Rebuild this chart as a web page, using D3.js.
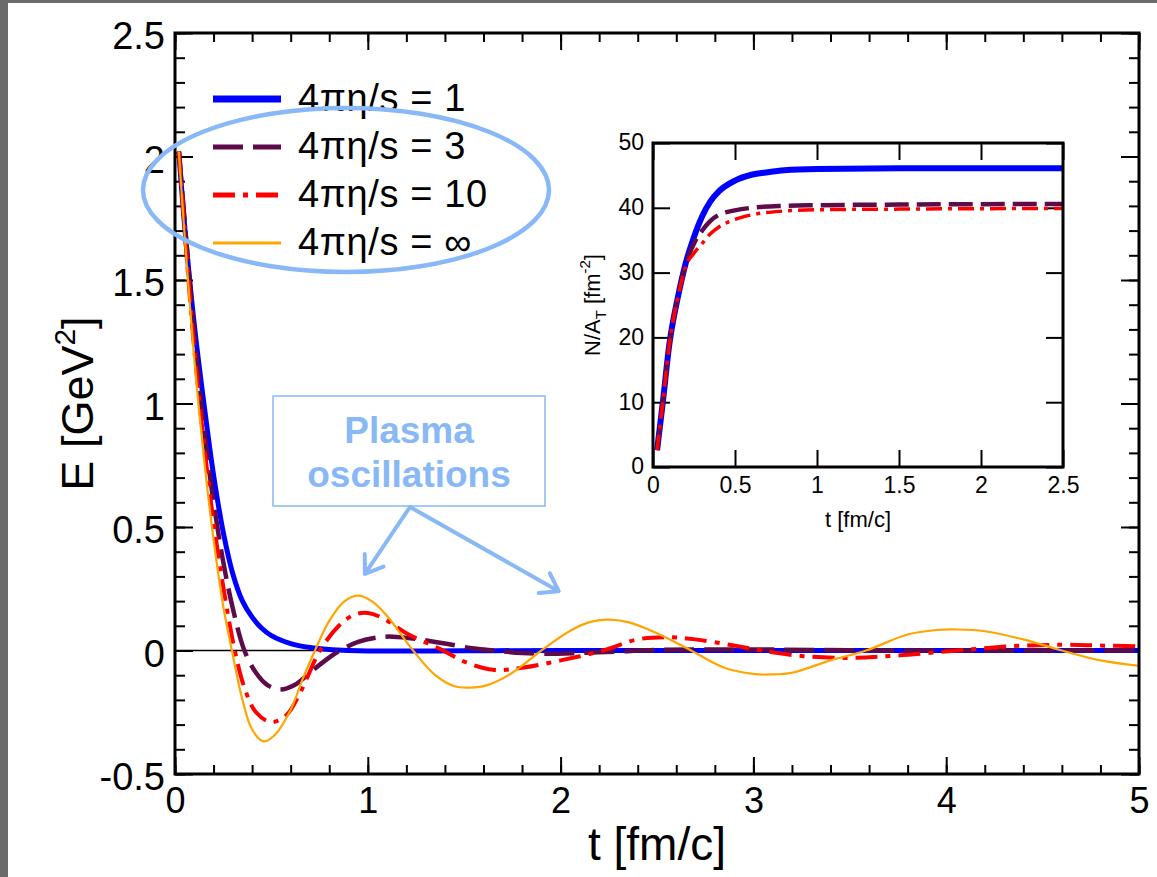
<!DOCTYPE html>
<html lang="en">
<head>
<meta charset="utf-8">
<script src="https://d3js.org/d3.v7.min.js"></script>
<style>
  body { margin: 0; background: #fff; }
  text { font-family: "Liberation Sans", Arial, sans-serif; }
</style>
</head>
<body>
<script>
// ---- data ----
// main plot: E [GeV^2] vs t [fm/c]
const tEta1 = [0.02,0.05,0.1,0.15,0.2,0.25,0.3,0.35,0.4,0.45,0.5,0.6,0.7,0.8,0.9,1.0,1.5,2.0,3.0,4.0,5.0];
const eEta1 = [2.02,1.72,1.32,1.0,0.71,0.48,0.31,0.2,0.135,0.09,0.06,0.028,0.012,0.004,0.0,-0.002,-0.001,0,0,0,0];

const tEta3 = [0.02,0.05,0.1,0.15,0.2,0.25,0.3,0.36,0.42,0.48,0.545,0.62,0.7,0.78,0.856,0.95,1.05,1.13,1.25,1.4,1.55,1.65,1.8,1.91,2.1,2.3,2.5,3.0,3.5,4.0,5.0];
const eEta3 = [2.02,1.74,1.28,0.9,0.6,0.36,0.17,0,-0.09,-0.14,-0.158,-0.14,-0.09,-0.04,0,0.035,0.053,0.056,0.047,0.028,0.008,0,-0.01,-0.013,-0.01,-0.004,0.002,0.004,0.001,0,0];

const tEta10 = [0.02,0.05,0.1,0.15,0.2,0.25,0.31,0.36,0.42,0.5,0.58,0.65,0.752,0.85,0.93,1.0,1.08,1.2,1.39,1.5,1.65,1.8,2.0,2.22,2.4,2.55,2.7,2.9,3.04,3.25,3.5,3.75,4.06,4.35,4.6,4.8,5.0];
const eEta10 = [2.02,1.7,1.22,0.84,0.52,0.26,0,-0.15,-0.25,-0.29,-0.26,-0.17,0,0.1,0.145,0.152,0.13,0.07,0,-0.045,-0.078,-0.07,-0.04,0,0.045,0.054,0.045,0.02,0,-0.022,-0.03,-0.02,0,0.018,0.023,0.02,0.017];

const tEtaInf = [0.02,0.05,0.1,0.15,0.2,0.25,0.295,0.35,0.4,0.46,0.52,0.6,0.66,0.726,0.8,0.88,0.95,1.02,1.1,1.235,1.35,1.45,1.53,1.62,1.75,1.9,2.05,2.15,2.24,2.35,2.5,2.676,2.85,3.0,3.09,3.2,3.4,3.585,3.8,3.95,4.06,4.2,4.4,4.6,4.8,5.0];
const eEtaInf = [2.02,1.68,1.18,0.78,0.45,0.18,0,-0.2,-0.32,-0.368,-0.34,-0.24,-0.12,0,0.12,0.2,0.222,0.2,0.14,0,-0.1,-0.145,-0.15,-0.14,-0.09,0,0.08,0.115,0.125,0.115,0.07,0,-0.07,-0.095,-0.097,-0.09,-0.04,0,0.065,0.083,0.085,0.078,0.045,0,-0.04,-0.062];

// inset: N/A_T [fm^-2] vs t [fm/c]
const tInset1 = [0.025,0.06,0.1,0.15,0.2,0.25,0.3,0.35,0.4,0.5,0.6,0.7,0.8,1.0,1.5,2.5];
const nInset1 = [2.6,10,19,26,31.5,35.5,38.7,41,42.5,44.2,45.1,45.5,45.8,46,46.1,46.1];
const tInset = [0.025,0.06,0.1,0.15,0.2,0.25,0.3,0.35,0.4,0.5,0.6,0.8,1.0,1.5,2.5];
const nInset3 = [2.6,10,19,26,31.3,34.5,36.5,38,38.9,39.6,40,40.3,40.4,40.5,40.6];
const nInset10 = [2.6,10,19,26,31,33,34.5,36,37,38.2,38.9,39.5,39.7,39.8,39.9];

const legendLabels = ["4\u03c0\u03b7/s = 1", "4\u03c0\u03b7/s = 3", "4\u03c0\u03b7/s = 10", "4\u03c0\u03b7/s = \u221e"];
const xTicks = [0,1,2,3,4,5];
const yTicks = [-0.5,0,0.5,1,1.5,2,2.5];
const xTicksInset = [0,0.5,1,1.5,2,2.5];
const yTicksInset = [0,10,20,30,40,50];

// ---- styles per series ----
const zip = (ts, vs) => ts.map((t, i) => ({t: t, v: vs[i]}));
const series = [
  {data: zip(tEta1, eEta1), color: "#0000ff", w: 5, dash: null, lw: 7},
  {data: zip(tEta3, eEta3), color: "#5e0b4a", w: 4.5, dash: "30,10", lw: 5},
  {data: zip(tEta10, eEta10), color: "#ff0000", w: 4, dash: "22,8,5,8", lw: 5},
  {data: zip(tEtaInf, eEtaInf), color: "#ffa500", w: 2.2, dash: null, lw: 3}
];
const insetSeries = [
  {data: zip(tInset1, nInset1), color: "#0000ff", w: 6, dash: null},
  {data: zip(tInset, nInset3), color: "#5e0b4a", w: 4.5, dash: "24,8"},
  {data: zip(tInset, nInset10), color: "#ff0000", w: 3.5, dash: "16,6,4,6"}
];

const W = 1157, H = 877;
const svg = d3.select("body").append("svg").attr("width", W).attr("height", H);
svg.append("rect").attr("width", W).attr("height", H).attr("fill", "#fff");
// grey slide border (top and left)
svg.append("rect").attr("width", W).attr("height", 3).attr("fill", "#6b6b6b");
svg.append("rect").attr("width", 8).attr("height", H).attr("fill", "#6b6b6b");

// ---- main plot ----
const pL = 175, pR = 1139, pT = 33, pB = 774;
const x = d3.scaleLinear().domain([0, 5]).range([pL, pR]);
const y = d3.scaleLinear().domain([-0.5, 2.5]).range([pB, pT]);

svg.append("clipPath").attr("id", "clipMain")
  .append("rect").attr("x", pL).attr("y", pT).attr("width", pR-pL).attr("height", pB-pT);

function addTicks(g, axis) {
  g.call(axis);
  g.select(".domain").remove();
  g.selectAll(".tick line").attr("stroke", "#000").attr("stroke-width", 2);
  return g;
}

// minor ticks
addTicks(svg.append("g").attr("transform", `translate(${pL},0)`),
  d3.axisLeft(y).tickValues(d3.range(-0.5, 2.51, 0.1)).tickSize(-10).tickFormat(""));
addTicks(svg.append("g").attr("transform", `translate(${pR},0)`),
  d3.axisRight(y).tickValues(d3.range(-0.5, 2.51, 0.1)).tickSize(-10).tickFormat(""));
addTicks(svg.append("g").attr("transform", `translate(0,${pB})`),
  d3.axisBottom(x).tickValues(d3.range(0, 5.01, 0.2)).tickSize(-9).tickFormat(""));
addTicks(svg.append("g").attr("transform", `translate(0,${pT})`),
  d3.axisTop(x).tickValues(d3.range(0, 5.01, 0.2)).tickSize(-9).tickFormat(""));

// major ticks + labels
const yAx = addTicks(svg.append("g").attr("transform", `translate(${pL},0)`),
  d3.axisLeft(y).tickValues(yTicks).tickSize(-18).tickPadding(10).tickFormat(d => d));
yAx.selectAll("text").attr("font-size", 38).attr("fill", "#000")
  .attr("font-family", "Liberation Sans, Arial, sans-serif").attr("dy", "0.42em");
addTicks(svg.append("g").attr("transform", `translate(${pR},0)`),
  d3.axisRight(y).tickValues(yTicks).tickSize(-18).tickFormat(""));
const xAx = addTicks(svg.append("g").attr("transform", `translate(0,${pB})`),
  d3.axisBottom(x).tickValues(xTicks).tickSize(-17).tickPadding(13).tickFormat(d => d));
xAx.selectAll("text").attr("font-size", 36).attr("fill", "#000")
  .attr("font-family", "Liberation Sans, Arial, sans-serif");
addTicks(svg.append("g").attr("transform", `translate(0,${pT})`),
  d3.axisTop(x).tickValues(xTicks).tickSize(-17).tickFormat(""));

// zero line
svg.append("line").attr("x1", pL).attr("x2", pR).attr("y1", y(0)).attr("y2", y(0))
  .attr("stroke", "#000").attr("stroke-width", 1.5);

const line = d3.line().x(d => x(d.t)).y(d => y(d.v)).curve(d3.curveCatmullRom.alpha(0.5));
const gLines = svg.append("g").attr("clip-path", "url(#clipMain)");
series.forEach(s => {
  gLines.append("path").datum(s.data)
    .attr("fill", "none").attr("stroke", s.color).attr("stroke-width", s.w)
    .attr("stroke-dasharray", s.dash).attr("stroke-linejoin", "round")
    .attr("d", line);
});

// frame
svg.append("rect").attr("x", pL).attr("y", pT).attr("width", pR-pL).attr("height", pB-pT)
  .attr("fill", "none").attr("stroke", "#000").attr("stroke-width", 3);

// axis titles
svg.append("text").attr("x", x(2.5)).attr("y", 860).attr("text-anchor", "middle")
  .attr("font-size", 46).text("t [fm/c]");
const yt = svg.append("text").attr("transform", `translate(93,${y(1)}) rotate(-90)`)
  .attr("text-anchor", "middle").attr("font-size", 45);
yt.append("tspan").text("E [GeV");
yt.append("tspan").attr("font-size", 30).attr("dy", -18).text("2");
yt.append("tspan").attr("dy", 18).text("]");

// legend
const leg = svg.append("g");
series.forEach((s, i) => {
  const ly = 99 + i * 48;
  leg.append("line").attr("x1", 213).attr("x2", 281).attr("y1", ly).attr("y2", ly)
    .attr("stroke", s.color).attr("stroke-width", s.lw).attr("stroke-dasharray", s.dash);
  leg.append("text").attr("x", 298).attr("y", ly + 12).attr("font-size", 38)
    .attr("letter-spacing", 0.6).text(legendLabels[i]);
});

// ---- inset ----
const il = 653, ir = 1063, itop = 143, ibot = 467;
const xi = d3.scaleLinear().domain([0, 2.5]).range([il, ir]);
const yi = d3.scaleLinear().domain([0, 50]).range([ibot, itop]);
svg.append("rect").attr("x", il).attr("y", itop).attr("width", ir-il).attr("height", ibot-itop).attr("fill", "#fff");

const yiAx = addTicks(svg.append("g").attr("transform", `translate(${il},0)`),
  d3.axisLeft(yi).tickValues(yTicksInset).tickSize(-17).tickPadding(9).tickFormat(d => d));
yiAx.selectAll("text").attr("font-size", 23).attr("fill", "#000")
  .attr("font-family", "Liberation Sans, Arial, sans-serif").attr("dy", "0.3em");
addTicks(svg.append("g").attr("transform", `translate(${ir},0)`),
  d3.axisRight(yi).tickValues(yTicksInset).tickSize(-17).tickFormat(""));
const xiAx = addTicks(svg.append("g").attr("transform", `translate(0,${ibot})`),
  d3.axisBottom(xi).tickValues(xTicksInset).tickSize(-17).tickPadding(10).tickFormat(d => d));
xiAx.selectAll("text").attr("font-size", 23).attr("fill", "#000")
  .attr("font-family", "Liberation Sans, Arial, sans-serif");
addTicks(svg.append("g").attr("transform", `translate(0,${itop})`),
  d3.axisTop(xi).tickValues(xTicksInset).tickSize(-17).tickFormat(""));

const iline = d3.line().x(d => xi(d.t)).y(d => yi(d.v)).curve(d3.curveMonotoneX);
insetSeries.forEach(s => {
  svg.append("path").datum(s.data)
    .attr("fill", "none").attr("stroke", s.color).attr("stroke-width", s.w)
    .attr("stroke-dasharray", s.dash).attr("d", iline);
});
svg.append("rect").attr("x", il).attr("y", itop).attr("width", ir-il).attr("height", ibot-itop)
  .attr("fill", "none").attr("stroke", "#000").attr("stroke-width", 3);

svg.append("text").attr("x", xi(1.25)).attr("y", 527).attr("text-anchor", "middle")
  .attr("font-size", 22).text("t [fm/c]");
const iyt = svg.append("text").attr("transform", `translate(600,${yi(25)}) rotate(-90)`)
  .attr("text-anchor", "middle").attr("font-size", 22);
iyt.append("tspan").text("N/A");
iyt.append("tspan").attr("font-size", 15).attr("dy", 6).text("T");
iyt.append("tspan").attr("dy", -6).text(" [fm");
iyt.append("tspan").attr("font-size", 15).attr("dy", -10).text("-2");
iyt.append("tspan").attr("dy", 10).text("]");

// ---- annotations ----
const blueAnn = "#88b8f6";
svg.append("ellipse").attr("cx", 346).attr("cy", 190).attr("rx", 203).attr("ry", 82)
  .attr("fill", "none").attr("stroke", blueAnn).attr("stroke-width", 4.5);

svg.append("rect").attr("x", 273).attr("y", 396).attr("width", 272).attr("height", 110)
  .attr("fill", "#fff").attr("stroke", blueAnn).attr("stroke-width", 1.5);
svg.append("text").attr("x", 409).attr("y", 443).attr("text-anchor", "middle")
  .attr("font-family", "Lato, 'Open Sans', sans-serif").attr("font-weight", "bold")
  .attr("font-size", 37).attr("fill", blueAnn).text("Plasma");
svg.append("text").attr("x", 409).attr("y", 487).attr("text-anchor", "middle")
  .attr("font-family", "Lato, 'Open Sans', sans-serif").attr("font-weight", "bold")
  .attr("font-size", 37).attr("fill", blueAnn).text("oscillations");

// arrows from the box to the oscillations
function arrow(x0, y0, x1, y1) {
  const a = Math.atan2(y1 - y0, x1 - x0), L = 20, sp = 0.6;
  const p = d3.path();
  p.moveTo(x0, y0); p.lineTo(x1, y1);
  p.moveTo(x1 - L * Math.cos(a - sp), y1 - L * Math.sin(a - sp)); p.lineTo(x1, y1);
  p.lineTo(x1 - L * Math.cos(a + sp), y1 - L * Math.sin(a + sp));
  svg.append("path").attr("d", p.toString()).attr("fill", "none")
    .attr("stroke", blueAnn).attr("stroke-width", 4).attr("stroke-linecap", "round")
    .attr("stroke-linejoin", "round");
}
arrow(410, 507, x(0.985), y(0.31));
arrow(410, 507, x(1.99), y(0.24));
</script>
</body>
</html>
